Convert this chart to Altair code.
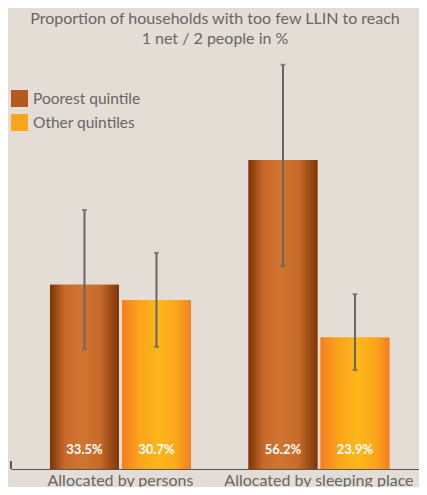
import altair as alt
import pandas as pd

methods = ["Allocated by persons", "Allocated by sleeping place"]
groups = ["Poorest quintile", "Other quintiles"]
poorest = [33.5, 56.2]
other = [30.7, 23.9]
poorest_lo = [21.8, 36.9]
poorest_hi = [47.1, 73.5]
other_lo = [22.2, 18.0]
other_hi = [39.3, 31.8]

rows = []
for i, m in enumerate(methods):
    rows.append(dict(method=m, group=groups[0], value=poorest[i], lo=poorest_lo[i], hi=poorest_hi[i]))
    rows.append(dict(method=m, group=groups[1], value=other[i], lo=other_lo[i], hi=other_hi[i]))
df = pd.DataFrame(rows)
df["label"] = df["value"].map(lambda v: f"{v:.1f}%")
df["zero"] = 0

FONT = "Lato"
GRAY = "#666666"

grad_poor = alt.LinearGradient(
    gradient="linear", x1=0, x2=1, y1=0, y2=0,
    stops=[
        alt.GradientStop(color="#7A3505", offset=0),
        alt.GradientStop(color="#C86A2A", offset=0.22),
        alt.GradientStop(color="#CF7431", offset=0.45),
        alt.GradientStop(color="#C96C2B", offset=0.72),
        alt.GradientStop(color="#7C3606", offset=1),
    ],
)
grad_other = alt.LinearGradient(
    gradient="linear", x1=0, x2=1, y1=0, y2=0,
    stops=[
        alt.GradientStop(color="#F47D20", offset=0),
        alt.GradientStop(color="#FBA41B", offset=0.25),
        alt.GradientStop(color="#FDB719", offset=0.55),
        alt.GradientStop(color="#FBA51B", offset=0.8),
        alt.GradientStop(color="#F47E20", offset=1),
    ],
)

x_enc = alt.X(
    "method:N", sort=methods,
    scale=alt.Scale(domain=methods, paddingInner=0.2897, paddingOuter=0.1726, align=0.569),
    axis=alt.Axis(
        title=None, labelAngle=0, ticks=False, labelFontSize=16, labelColor=GRAY,
        labelFont=FONT, labelPadding=3, labelLimit=0, domainColor="#555555", domainWidth=1.2,
    ),
)
xo_enc = alt.XOffset(
    "group:N", sort=groups,
    scale=alt.Scale(domain=groups, paddingInner=0.0417, paddingOuter=0),
)
y_scale = alt.Scale(domain=[0, 76.36], nice=False, zero=True)

base = alt.Chart(df).encode(x=x_enc, xOffset=xo_enc)

legend_bars = base.mark_bar().encode(
    y=alt.Y("value:Q", scale=y_scale, axis=None),
    color=alt.Color(
        "group:N", sort=groups,
        scale=alt.Scale(domain=groups, range=["#B45A1E", "#FBA51B"]),
        legend=alt.Legend(
            title=None, orient="none", legendX=0, legendY=41,
            symbolType="square", symbolSize=289, symbolStrokeWidth=0,
            labelFontSize=15.5, labelColor=GRAY, labelFont=FONT,
            labelOffset=5, rowPadding=7, padding=0,
        ),
    ),
)

poor_bars = base.transform_filter(alt.datum.group == groups[0]).mark_bar(color=grad_poor).encode(
    y=alt.Y("value:Q", scale=y_scale, axis=None)
)
other_bars = base.transform_filter(alt.datum.group == groups[1]).mark_bar(color=grad_other).encode(
    y=alt.Y("value:Q", scale=y_scale, axis=None)
)

err = base.mark_rule(color="#666666", strokeWidth=2).encode(
    y=alt.Y("lo:Q", scale=y_scale), y2="hi:Q"
)
cap_lo = base.mark_tick(color="#666666", thickness=2, size=5).encode(y=alt.Y("lo:Q", scale=y_scale))
cap_hi = base.mark_tick(color="#666666", thickness=2, size=5).encode(y=alt.Y("hi:Q", scale=y_scale))

labels = base.mark_text(
    color="white", fontWeight="bold", fontSize=13, font=FONT, baseline="alphabetic", dy=-15
).encode(y=alt.Y("zero:Q", scale=y_scale), text="label:N")

left_tick = alt.Chart(df).mark_rule(color="#555555", strokeWidth=1.2).encode(
    x=alt.value(0), y=alt.value(412), y2=alt.value(420)
)

chart = alt.layer(
    legend_bars, poor_bars, other_bars, err, cap_lo, cap_hi, labels, left_tick
).properties(
    width=408, height=420,
    title=alt.TitleParams(
        ["Proportion of households with too few LLIN to reach", "1 net / 2 people in %"],
        fontSize=16, color=GRAY, font=FONT, fontWeight="normal", anchor="middle",
        lineHeight=20, offset=2,
    ),
    autosize=alt.AutoSizeParams(type="none"),
    padding={"left": 3, "top": 41, "right": 0, "bottom": 18},
    background="#E4DDD5",
).configure_view(stroke=None)

chart.save("out.html", embed_options={"renderer": "svg", "actions": False})
